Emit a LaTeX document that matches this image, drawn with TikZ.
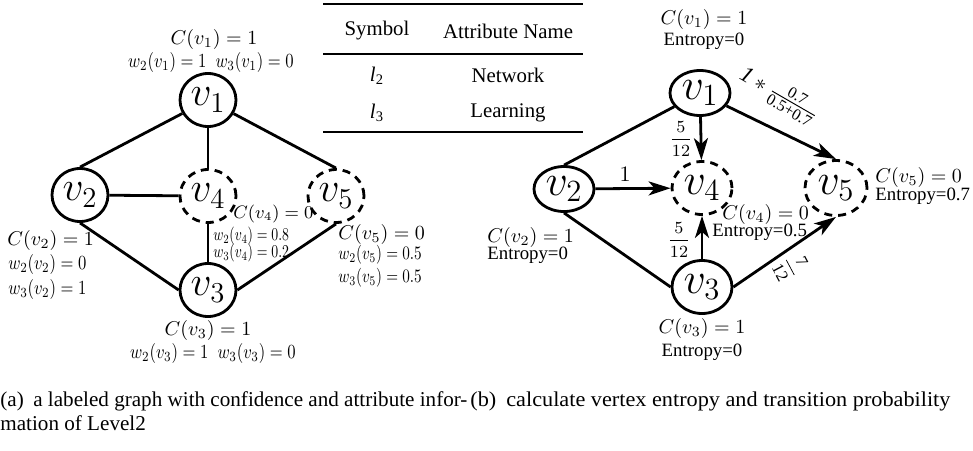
\RequirePackage{fix-cm}
\documentclass[tikz,border=0pt]{standalone}
\usepackage{amsmath}
\usepackage{graphicx}
\usepackage{fontspec}
\setmainfont{Liberation Serif}
\usetikzlibrary{arrows.meta,shapes.geometric}

% condensed math labels for the attribute weights
\newcommand{\wlab}[3]{\scalebox{#1}[#2]{$#3$}}

\begin{document}
\begin{tikzpicture}[x=0.5pt,y=-0.5pt,
  vl/.style={ellipse,draw,line width=1.4pt,inner sep=0pt,
             minimum width=28pt,minimum height=26.5pt,font=\huge},
  vr/.style={ellipse,draw,line width=1.4pt,inner sep=0pt,
             minimum width=30pt,minimum height=26.5pt,font=\fontsize{22}{24}\selectfont},
  hid/.style={dash pattern=on 4pt off 3pt},
  link/.style={line width=1.4pt},
  arr/.style={link,-{Stealth[length=11pt,width=7pt,inset=3pt]}},
  lab/.style={inner sep=0pt,font=\fontsize{10}{12}\selectfont},
  ent/.style={inner sep=0pt,font=\fontsize{9.4}{11}\selectfont},
  tab/.style={inner sep=0pt,font=\fontsize{10.4}{12}\selectfont},
  captxt/.style={inner sep=0pt,anchor=base west,font=\fontsize{10.56}{12}\selectfont},
  tabrule/.style={line width=0.9pt},
]
\useasboundingbox (0,0) rectangle (973,450);

% ---------- (a) labeled graph ----------
\node[vl]     (l1) at (208,100) {$v_1$};
\node[vl]     (l2) at (80,195)  {$v_2$};
\node[vl,hid] (l4) at (208,196) {$v_4$};
\node[vl,hid] (l5) at (336,196) {$v_5$};
\node[vl]     (l3) at (208,290) {$v_3$};

\draw[link] (l1) -- (l2.north);
\draw[link] (l1) -- (l4);
\draw[link] (l1) -- (l5.north);
\draw[link] (l2) -- (l4);
\draw[link] (l2.south) -- (l3.west);
\draw[link] (l4) -- (l3);
\draw[link] (l5.south) -- (l3.east);

\node[lab] (a1c) at (214,39) {$C(v_1)=1$};
\node[lab] (a1w) at (211,62) {\wlab{0.83}{1}{w_2(v_1)=1\;\; w_3(v_1)=0}};
\node[lab,anchor=west] (a2c)  at (7,240) {$C(v_2)=1$};
\node[lab,anchor=west] (a2w2) at (8,264) {\wlab{0.83}{1}{w_2(v_2)=0}};
\node[lab,anchor=west] (a2w3) at (8,289) {\wlab{0.83}{1}{w_3(v_2)=1}};
\node[lab,anchor=west,font=\fontsize{9}{11}\selectfont] (a4c) at (233,214) {$C(v_4)=0$};
\node[lab,anchor=west] (a4w2) at (213,236) {\wlab{0.69}{0.9}{w_2(v_4)=0.8}};
\node[lab,anchor=west] (a4w3) at (213,253) {\wlab{0.69}{0.9}{w_3(v_4)=0.2}};
\node[lab,anchor=west] (a5c)  at (338,234) {$C(v_5)=0$};
\node[lab,anchor=west] (a5w2) at (338,255) {\wlab{0.76}{0.95}{w_2(v_5)=0.5}};
\node[lab,anchor=west] (a5w3) at (338,278) {\wlab{0.76}{0.95}{w_3(v_5)=0.5}};
\node[lab] (a3c) at (208,330) {$C(v_3)=1$};
\node[lab] (a3w) at (213,353) {\wlab{0.83}{1}{w_2(v_3)=1\;\; w_3(v_3)=0}};

% ---------- attribute table ----------
\draw[tabrule] (323,4) coordinate (t0) -- (583,4) coordinate (t1);
\draw[tabrule] (323,54) coordinate (t2) -- (583,54) coordinate (t3);
\draw[tabrule] (323,132) coordinate (t4) -- (583,132) coordinate (t5);
\node[tab] (hs) at (377,31) {Symbol};
\node[tab] (ha) at (508,31) {Attribute Name};
\node[tab] (s2) at (377,76) {\textit{l}\textsubscript{2}};
\node[tab] (n2) at (508,75) {Network};
\node[tab] (s3) at (377,113) {\textit{l}\textsubscript{3}};
\node[tab] (n3) at (508,113) {Learning};

% ---------- (b) entropy and transition probability ----------
\node[vr,minimum height=22.5pt] (r1) at (700,93)  {$v_1$};
\node[vr,minimum height=22.5pt] (r2) at (564,189) {$v_2$};
\node[vr,hid] (r4) at (702,188) {$v_4$};
\node[vr,hid,minimum width=31pt,minimum height=27.5pt] (r5) at (836,188) {$v_5$};
\node[vr]     (r3) at (702,287) {$v_3$};

\draw[link] (r1) -- (r2.north);
\draw[arr]  (r1) -- (r4);
\draw[arr]  (r1) -- (r5.north);
\draw[arr]  (r2) -- (r4);
\draw[link] (r2.south) -- (r3.west);
\draw[arr]  (r3) -- (r4);
\draw[arr]  (r3.east) -- (r5.south);

\node[lab,font=\fontsize{8.5}{10}\selectfont] (p14) at (681,139) {$\dfrac{5}{12}$};
\node[lab,font=\fontsize{8.5}{10}\selectfont] (p34) at (679,240) {$\dfrac{5}{12}$};
\node[lab,font=\fontsize{11}{12}\selectfont] (p24) at (625,174) {$1$};
\node[lab,rotate=-30,font=\fontsize{11.5}{13}\selectfont] (p15) at (779,95)
  {$\mathit{1}*\frac{\textrm{0.7}}{\textrm{0.5+0.7}}$};
\node[lab,rotate=-62,font=\fontsize{8.5}{10}\selectfont] (p35) at (791,267)
  {$\dfrac{\textrm{7}}{\textrm{12}}$};

\node[lab] (b1c) at (704,19) {$C(v_1)=1$};
\node[ent] (b1e) at (704,41) {Entropy=0};
\node[lab,anchor=west] (b2c) at (487,237) {$C(v_2)=1$};
\node[ent,anchor=west] (b2e) at (487,255) {Entropy=0};
\node[lab] (b3c) at (702,328) {$C(v_3)=1$};
\node[ent] (b3e) at (702,352) {Entropy=0};
\node[lab,anchor=west] (b4c) at (722,214) {$C(v_4)=0$};
\node[ent,anchor=west] (b4e) at (712,232) {Entropy=0.5};
\node[lab,anchor=west] (b5c) at (875,177) {$C(v_5)=0$};
\node[ent,anchor=west] (b5e) at (875,196) {Entropy=0.7};

% ---------- sub-captions ----------
\node[captxt] (ca1) at (0,406) {(a)\hspace{0.45em}a labeled graph with confidence and attribute infor-};
\node[captxt] (ca2) at (0,430) {mation of Level2};
\node[captxt] (cb1) at (470,406)
  {\resizebox{240pt}{\height}{(b)\hspace{0.45em}calculate vertex entropy and transition probability}};
\end{tikzpicture}
\end{document}
